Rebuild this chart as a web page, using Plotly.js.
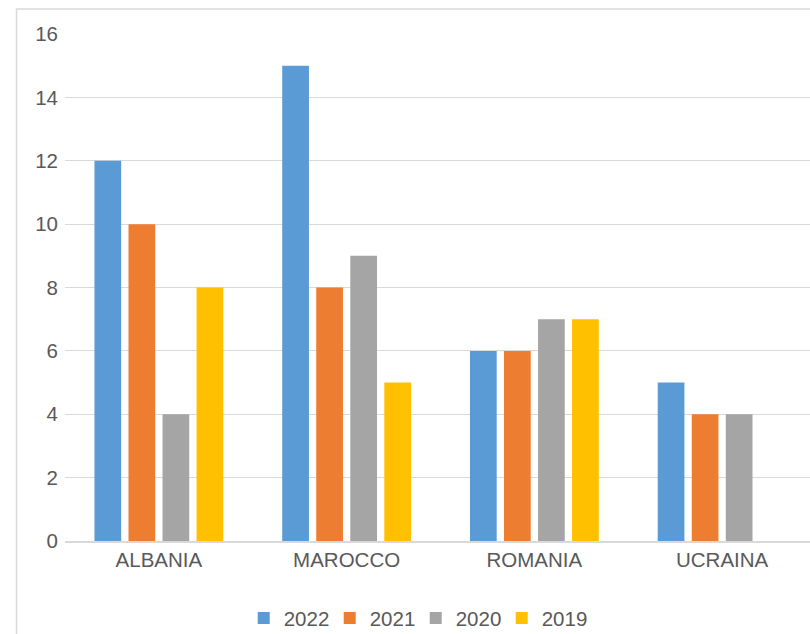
<!DOCTYPE html>
<html>
<head>
<meta charset="utf-8">
<script src="https://cdn.plot.ly/plotly-3.0.1.min.js"></script>
<style>
html,body{margin:0;padding:0;overflow:hidden;background:#fff;}
#chart{width:831px;height:660px;}
</style>
</head>
<body>
<div id="chart"></div>
<script>
const categories = ["ALBANIA", "MAROCCO", "ROMANIA", "UCRAINA"];
const seriesNames = ["2022", "2021", "2020", "2019"];
const values2022 = [12, 15, 6, 5];
const values2021 = [10, 8, 6, 4];
const values2020 = [4, 9, 7, 4];
const values2019 = [8, 5, 7, 0];
const colors = ["#5B9BD5", "#ED7D31", "#A5A5A5", "#FFC000"];
const yTicks = [0, 2, 4, 6, 8, 10, 12, 14, 16];

const allValues = [values2022, values2021, values2020, values2019];
const traces = allValues.map((vals, i) => ({
  type: "bar",
  name: seriesNames[i],
  x: categories,
  y: vals,
  marker: {color: colors[i]},
  hoverinfo: "x+y+name"
}));

const fontFam = "'Liberation Sans', Arial, sans-serif";
const fs = 20.5;
const layout = {
  width: 831,
  height: 660,
  margin: {l: 65, r: 15, t: 34, b: 119},
  paper_bgcolor: "#ffffff",
  plot_bgcolor: "#ffffff",
  barmode: "group",
  bargap: 0.275,
  bargroupgap: 0.215,
  font: {family: fontFam, size: fs, color: "#595959"},
  xaxis: {
    type: "category",
    showgrid: false,
    showline: true,
    linecolor: "#d9d9d9",
    linewidth: 1.5,
    ticks: "",
    tickfont: {family: fontFam, size: fs, color: "#595959"},
    zeroline: false,
    fixedrange: true
  },
  yaxis: {
    range: [0, 16],
    tickvals: yTicks,
    ticktext: yTicks.map(String),
    showgrid: true,
    gridcolor: "#d9d9d9",
    gridwidth: 1,
    zeroline: false,
    showline: false,
    ticks: "",
    ticklabelstandoff: 6,
    tickfont: {family: fontFam, size: fs, color: "#595959"},
    fixedrange: true
  },
  legend: {
    orientation: "h",
    x: 0.467,
    xanchor: "center",
    y: -0.152,
    yanchor: "middle",
    entrywidth: 41,
    entrywidthmode: "pixels",
    font: {family: fontFam, size: fs, color: "#595959"},
    bgcolor: "rgba(0,0,0,0)"
  },
  shapes: [{
    type: "rect",
    xref: "paper",
    yref: "paper",
    x0: -0.0646,
    x1: 1.05,
    y0: -0.3,
    y1: 1.0493,
    line: {color: "#d9d9d9", width: 1.5},
    fillcolor: "rgba(0,0,0,0)",
    layer: "below"
  }],
  showlegend: true
};

Plotly.newPlot("chart", traces, layout, {displayModeBar: false, staticPlot: true});
</script>
</body>
</html>
